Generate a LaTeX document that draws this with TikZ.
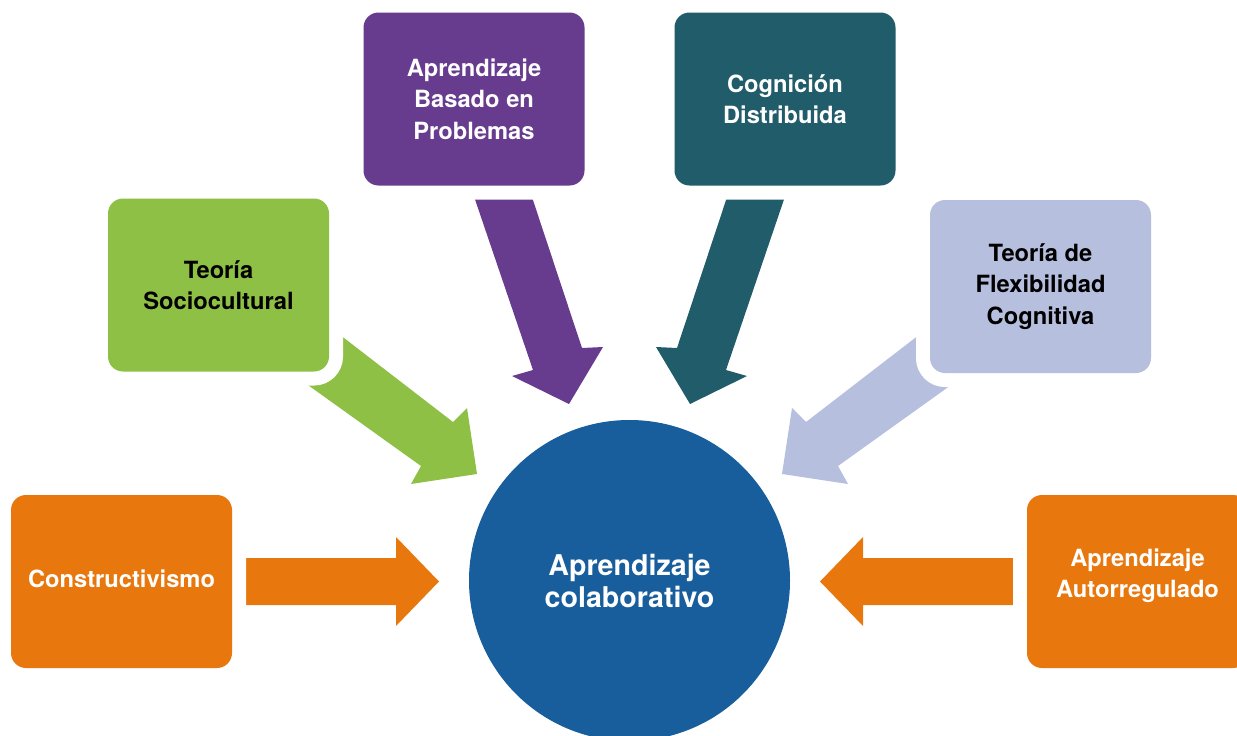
\documentclass[tikz,border=0pt]{standalone}
\usepackage{fontspec}
\setmainfont{TeX Gyre Heros}
\definecolor{corange}{HTML}{E8770E}
\definecolor{cgreen}{HTML}{8DC044}
\definecolor{cpurple}{HTML}{673B8E}
\definecolor{cteal}{HTML}{215C6A}
\definecolor{clav}{HTML}{B7BFDE}
\definecolor{cblue}{HTML}{185D9C}
\newcommand\bxfont{\fontsize{23.7}{31.5}\selectfont\bfseries}
\newcommand\ctrfont{\fontsize{28.6}{32}\selectfont\bfseries}
\begin{document}
\begin{tikzpicture}[x=1pt,y=-1pt,
  box/.style={rectangle, rounded corners=15pt, minimum width=221pt,
    minimum height=173pt, inner sep=0pt, align=center, font=\bxfont,
    preaction={draw=white, line width=28pt}},
  boxtext/.style={inner sep=0pt, align=center, font=\bxfont},
  hub/.style={circle, minimum size=321pt, inner sep=0pt, fill=cblue,
    text=white, align=center, font=\ctrfont}]
\clip (0,0) rectangle (1237,736);
% block arrows (tails run under the boxes)
\fill[corange] (230,558) -- (396,558) -- (396,537) -- (439,581.5) -- (396,626) -- (396,605) -- (230,605) -- cycle;
\fill[corange] (1029,558) -- (863,558) -- (863,537) -- (820,581.5) -- (863,626) -- (863,605) -- (1029,605) -- cycle;
\fill[cgreen] (309,311) -- (453,422) -- (467,408) -- (477,474) -- (411,484) -- (421,466) -- (273,360) -- cycle;
\fill[clav] (950,311) -- (806,422) -- (792,408) -- (782,474) -- (848,484) -- (838,466) -- (986,360) -- cycle;
\fill[cpurple] (465,170) -- (523,170) -- (582,348) -- (603,347) -- (569,404) -- (512,376) -- (533,370) -- cycle;
\fill[cteal] (794,170) -- (736,170) -- (677,348) -- (656,347) -- (690,404) -- (747,376) -- (726,370) -- cycle;
% boxes
\node[box, fill=corange] (cons) at (121.5,581.5) {};
\node[boxtext, text=white] (const) at (121.5,579) {Constructivismo};
\node[box, fill=cgreen, text=black] (soc) at (218.5,285) {Teoría\\Sociocultural};
\node[box, fill=cpurple, text=white] (abp) at (474,99) {Aprendizaje\\Basado en\\Problemas};
\node[box, fill=cteal, text=white] (cog) at (785,99) {Cognición\\Distribuida};
\node[box, fill=clav, text=black] (flex) at (1040.5,286.5) {Teoría de\\Flexibilidad\\Cognitiva};
\node[box, fill=corange] (auto) at (1137.5,581.5) {};
\node[boxtext, text=white] (autot) at (1137.5,575.5) {Aprendizaje\\Autorregulado};
% hub
\node[hub] (ac) at (629.5,580.5) {Aprendizaje\\colaborativo};
\end{tikzpicture}
\end{document}
